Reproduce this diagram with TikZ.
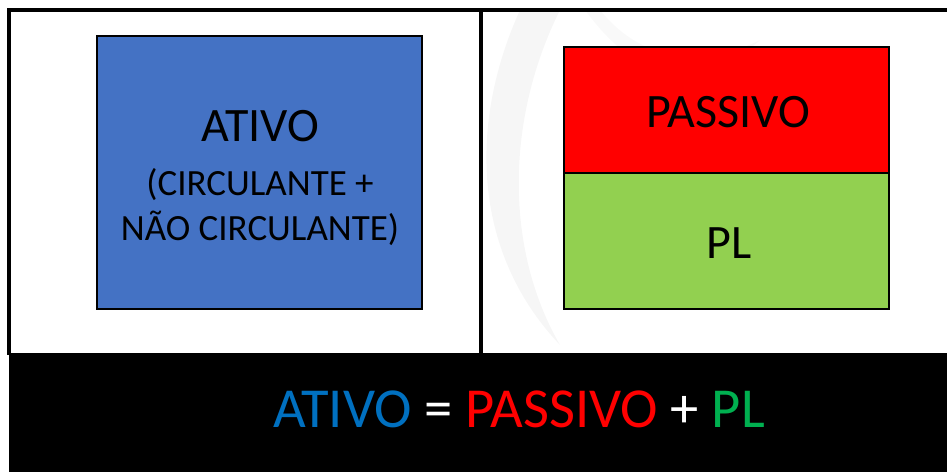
\documentclass[tikz,border=0pt]{standalone}
\usepackage{fontspec}
\setmainfont{Carlito}
\usetikzlibrary{positioning}
\definecolor{ativoblue}{HTML}{4472C4}
\definecolor{passred}{HTML}{FF0000}
\definecolor{plgreen}{HTML}{92D050}
\definecolor{eqblue}{HTML}{0070C0}
\definecolor{eqgreen}{HTML}{00B050}
\tikzset{
    box/.style={draw=black, line width=2.8pt, outer sep=0pt, inner sep=0pt, minimum width=325pt},
    bigtext/.style={font=\fontsize{48}{57}\selectfont, inner sep=0pt, anchor=base},
    midtext/.style={font=\fontsize{37}{45}\selectfont, inner sep=0pt, anchor=base},
    frame/.style={line width=4pt}
}

\begin{document}
\begin{tikzpicture}[x=1pt, y=-1pt]
            \useasboundingbox (0,0) rectangle (947,472);
            % faint watermark
            \fill[gray!7] (520,10) .. controls (470,120) and (470,250) .. (560,345)
                .. controls (505,250) and (505,120) .. (560,10) -- cycle;
            \fill[gray!5] (600,10) .. controls (640,60) and (700,70) .. (760,40)
                .. controls (700,95) and (640,85) .. (585,10) -- cycle;
            % frame
            \coordinate (tl) at (9,10);
            \coordinate (tr) at (947,10);
            \coordinate (bl) at (9,355);
            \coordinate (mt) at (481,10);
            \coordinate (mb) at (481,355);
            \draw[frame] (tr) -- (tl) -- (bl);
            \draw[frame] (mt) -- (mb);
            \node[fill=black, inner sep=0pt, outer sep=0pt, minimum width=938pt, minimum height=119pt,
                anchor=north west] (band) at (9,353) {};
            % boxes
            \node[box, fill=ativoblue, minimum height=273pt] (ativo) at (259.5,172.5) {};
            \node[box, fill=passred, minimum height=126pt] (passivo) at (726.5,110) {};
            \node[box, fill=plgreen, minimum height=136pt, below=0pt of passivo] (pl) {};
            % texts
            \node[bigtext] (ativotxt) at (260,141) {ATIVO};
            \node[midtext] (circ) at (260,195) {(CIRCULANTE +};
            \node[midtext] (naocirc) at (260,240) {NÃO CIRCULANTE)};
            \node[bigtext] (passtxt) at (728,127) {PASSIVO};
            \node[bigtext] (pltxt) at (729,258) {PL};
            \node[font=\fontsize{56.5}{68}\selectfont, inner sep=0pt, anchor=base] (eq) at (519,427)
                {\textcolor{eqblue}{ATIVO} \textcolor{white}{=} \textcolor{passred}{PASSIVO}
                 \textcolor{white}{+} \textcolor{eqgreen}{PL}};
\end{tikzpicture}
\end{document}
